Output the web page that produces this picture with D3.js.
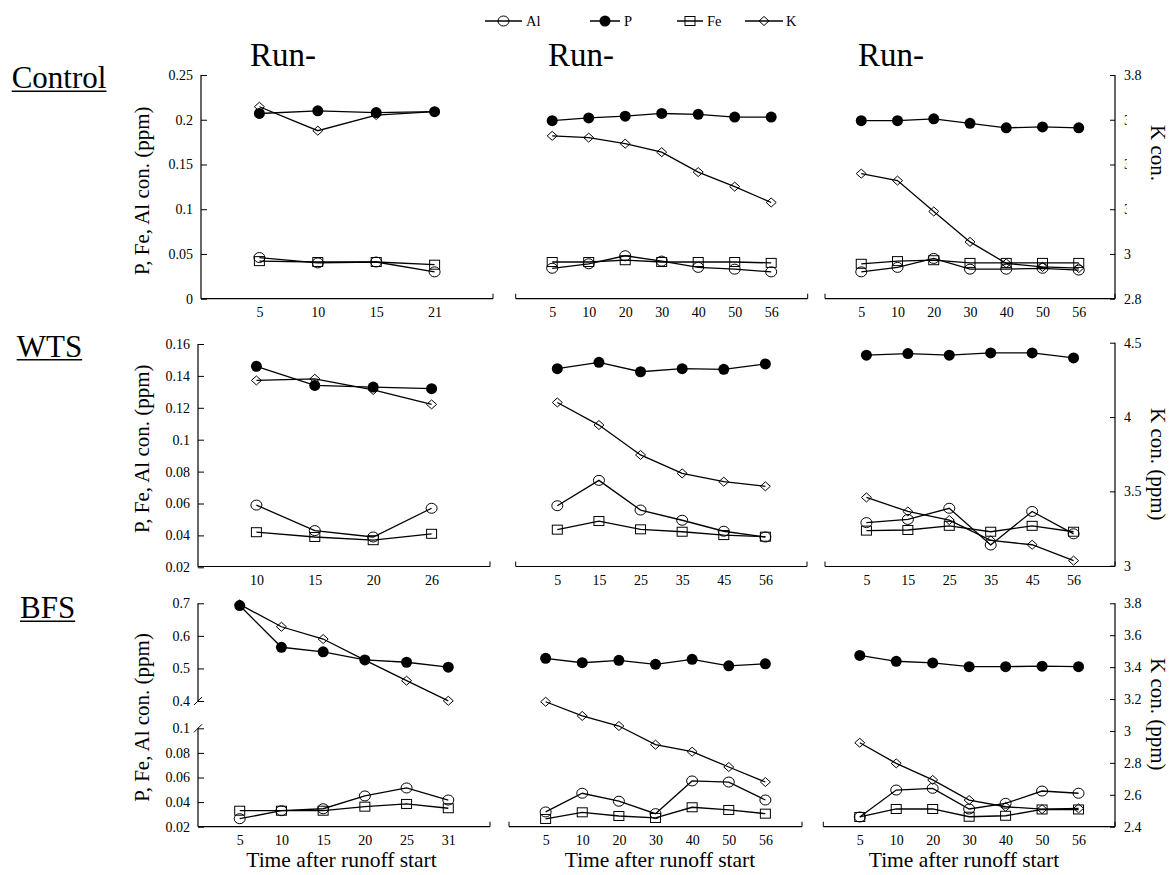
<!DOCTYPE html>
<html><head><meta charset="utf-8">
<script src="https://cdn.jsdelivr.net/npm/d3@7"></script>
<style>
body{margin:0;background:#fff}
svg text{font-family:"Liberation Serif","DejaVu Serif",serif !important;}
</style>
</head><body>
<svg id="c" width="1175" height="875" xmlns="http://www.w3.org/2000/svg"></svg>
<script>
const FONT = '"Liberation Serif","DejaVu Serif",serif';

// ---------- categories (time after runoff start) ----------
const catsControlRun1 = ["5","10","15","21"];
const catsControlRun23 = ["5","10","20","30","40","50","56"];
const catsWTSRun1 = ["10","15","20","26"];
const catsWTSRun23 = ["5","15","25","35","45","56"];
const catsBFSRun1 = ["5","10","15","20","25","31"];
const catsBFSRun23 = ["5","10","20","30","40","50","56"];

// ---------- series values ----------
// Control
const ctrl1_Al = [0.046, 0.040, 0.041, 0.030];
const ctrl1_P  = [0.207, 0.210, 0.208, 0.209];
const ctrl1_Fe = [0.042, 0.041, 0.041, 0.038];
const ctrl1_K  = [3.658, 3.551, 3.621, 3.636];

const ctrl2_Al = [0.034, 0.039, 0.048, 0.042, 0.035, 0.033, 0.030];
const ctrl2_P  = [0.199, 0.202, 0.204, 0.207, 0.206, 0.203, 0.203];
const ctrl2_Fe = [0.041, 0.041, 0.043, 0.041, 0.041, 0.041, 0.040];
const ctrl2_K  = [3.528, 3.520, 3.493, 3.455, 3.366, 3.301, 3.230];

const ctrl3_Al = [0.030, 0.035, 0.045, 0.033, 0.033, 0.034, 0.032];
const ctrl3_P  = [0.199, 0.199, 0.201, 0.196, 0.191, 0.192, 0.191];
const ctrl3_Fe = [0.039, 0.042, 0.043, 0.040, 0.040, 0.040, 0.040];
const ctrl3_K  = [3.359, 3.328, 3.190, 3.054, 2.958, 2.942, 2.937];

// WTS
const wts1_Al = [0.059, 0.043, 0.039, 0.057];
const wts1_P  = [0.146, 0.134, 0.133, 0.132];
const wts1_Fe = [0.042, 0.039, 0.037, 0.041];
const wts1_K  = [4.246, 4.257, 4.182, 4.085];

const wts2_Al = [0.0586, 0.0745, 0.0559, 0.0495, 0.0426, 0.039];
const wts2_P  = [0.1445, 0.1485, 0.1426, 0.1445, 0.1441, 0.1475];
const wts2_Fe = [0.0436, 0.049, 0.0438, 0.0423, 0.0402, 0.0392];
const wts2_K  = [4.098, 3.946, 3.745, 3.621, 3.565, 3.534];

const wts3_Al = [0.048, 0.050, 0.057, 0.034, 0.055, 0.041];
const wts3_P  = [0.153, 0.154, 0.153, 0.1544, 0.1544, 0.1513];
const wts3_Fe = [0.043, 0.0434, 0.046, 0.0423, 0.046, 0.0423];
const wts3_K  = [3.459, 3.365, 3.307, 3.170, 3.141, 3.034];

// BFS
const bfs1_Al = [0.0265, 0.033, 0.0346, 0.045, 0.0515, 0.0417];
const bfs1_P  = [0.693, 0.565, 0.551, 0.526, 0.519, 0.504];
const bfs1_Fe = [0.033, 0.033, 0.033, 0.0363, 0.0385, 0.035];
const bfs1_K  = [3.793, 3.653, 3.576, 3.444, 3.315, 3.189];

const bfs2_Al = [0.032, 0.0472, 0.0407, 0.0306, 0.0572, 0.0563, 0.0417];
const bfs2_P  = [0.531, 0.5175, 0.525, 0.5126, 0.528, 0.508, 0.514];
const bfs2_Fe = [0.0263, 0.0317, 0.0287, 0.0271, 0.0358, 0.0336, 0.0306];
const bfs2_K  = [3.183, 3.094, 3.031, 2.914, 2.870, 2.774, 2.680];

const bfs3_Al = [0.0279, 0.0498, 0.0512, 0.0344, 0.039, 0.049, 0.0472];
const bfs3_P  = [0.540, 0.522, 0.517, 0.5055, 0.5055, 0.507, 0.5055];
const bfs3_Fe = [0.0279, 0.0344, 0.0344, 0.0281, 0.0289, 0.034, 0.034];
const bfs3_K  = [2.926, 2.797, 2.693, 2.567, 2.525, 2.51, 2.515];

// ---------- tick labels ----------
const leftTicksControl = [0, 0.05, 0.1, 0.15, 0.2, 0.25];
const leftTicksWTS = [0.02, 0.04, 0.06, 0.08, 0.1, 0.12, 0.14, 0.16];
const leftTicksBFS = [0.02, 0.04, 0.06, 0.08, 0.1, 0.4, 0.5, 0.6, 0.7];
const rightTicksControl = [2.8, 3, 3.2, 3.4, 3.6, 3.8];
const rightTicksWTS = [3, 3.5, 4, 4.5];
const rightTicksBFS = [2.4, 2.6, 2.8, 3, 3.2, 3.4, 3.6, 3.8];

const rowNames = ["Control", "WTS", "BFS"];
const seriesNames = ["Al", "P", "Fe", "K"];
const runTitle = "Run-";
const leftTitle = "P, Fe, Al con. (ppm)";
const xTitle = "Time after runoff start";

// ---------- layout ----------
const svg = d3.select("#c");
const rows = [
  { axisY: 298.7, leftX: 201,
    xr: [[201, 493], [515.7, 807.7], [825, 1115]],
    yL: d3.scaleLinear().domain([0, 0.25]).range([298.7, 75]),
    yR: d3.scaleLinear().domain([2.8, 3.8]).range([298.7, 75]),
    lt: leftTicksControl, rt: rightTicksControl },
  { axisY: 566.5, leftX: 198,
    xr: [[198, 490], [515.7, 807], [825, 1115]],
    yL: d3.scaleLinear().domain([0.02, 0.16]).range([567.3, 344]),
    yR: d3.scaleLinear().domain([3, 4.5]).range([565.7, 342.7]),
    lt: leftTicksWTS, rt: rightTicksWTS },
  { axisY: 826.7, leftX: 198,
    xr: [[198, 490], [509, 802], [823.3, 1115]],
    yL: d3.scaleLinear().domain([0.02, 0.1, 0.4, 0.7]).range([826.7, 728.3, 701, 603.3]),
    yR: d3.scaleLinear().domain([2.4, 3.8]).range([826.7, 603.3]),
    lt: leftTicksBFS, rt: rightTicksBFS }
];

const panels = [
  { r: 0, c: 0, cats: catsControlRun1, d: { Al: ctrl1_Al, P: ctrl1_P, Fe: ctrl1_Fe, K: ctrl1_K } },
  { r: 0, c: 1, cats: catsControlRun23, d: { Al: ctrl2_Al, P: ctrl2_P, Fe: ctrl2_Fe, K: ctrl2_K } },
  { r: 0, c: 2, cats: catsControlRun23, d: { Al: ctrl3_Al, P: ctrl3_P, Fe: ctrl3_Fe, K: ctrl3_K } },
  { r: 1, c: 0, cats: catsWTSRun1, d: { Al: wts1_Al, P: wts1_P, Fe: wts1_Fe, K: wts1_K } },
  { r: 1, c: 1, cats: catsWTSRun23, d: { Al: wts2_Al, P: wts2_P, Fe: wts2_Fe, K: wts2_K } },
  { r: 1, c: 2, cats: catsWTSRun23, d: { Al: wts3_Al, P: wts3_P, Fe: wts3_Fe, K: wts3_K } },
  { r: 2, c: 0, cats: catsBFSRun1, d: { Al: bfs1_Al, P: bfs1_P, Fe: bfs1_Fe, K: bfs1_K } },
  { r: 2, c: 1, cats: catsBFSRun23, d: { Al: bfs2_Al, P: bfs2_P, Fe: bfs2_Fe, K: bfs2_K } },
  { r: 2, c: 2, cats: catsBFSRun23, d: { Al: bfs3_Al, P: bfs3_P, Fe: bfs3_Fe, K: bfs3_K } }
];

function marker(g, type, x, y) {
  if (type === "Al") {
    g.append("ellipse").attr("cx", x).attr("cy", y).attr("rx", 5.5).attr("ry", 5)
      .attr("fill", "none").attr("stroke", "#000").attr("stroke-width", 1);
  } else if (type === "P") {
    g.append("circle").attr("cx", x).attr("cy", y).attr("r", 5.5).attr("fill", "#000");
  } else if (type === "Fe") {
    g.append("rect").attr("x", x - 5).attr("y", y - 4.5).attr("width", 10).attr("height", 9)
      .attr("fill", "none").attr("stroke", "#000").attr("stroke-width", 1);
  } else {
    g.append("path").attr("d", `M${x},${y - 4.5}L${x + 5},${y}L${x},${y + 4.5}L${x - 5},${y}Z`)
      .attr("fill", "none").attr("stroke", "#000").attr("stroke-width", 1);
  }
}

function styleText(sel, size) {
  sel.attr("font-family", FONT).attr("font-size", size).attr("fill", "#000");
}

// ---------- panels ----------
panels.forEach(p => {
  const row = rows[p.r];
  const [x0, x1] = row.xr[p.c];
  const x = d3.scalePoint().domain(p.cats).range([x0, x1]).padding(1);
  const g = svg.append("g");
  const yb = row.axisY;
  g.append("line").attr("x1", x0).attr("x2", x1).attr("y1", yb).attr("y2", yb)
    .attr("stroke", "#000").attr("stroke-width", 1.2);
  if (p.c > 0) g.append("line").attr("x1", x0).attr("x2", x0).attr("y1", yb).attr("y2", yb - 5)
    .attr("stroke", "#000").attr("stroke-width", 1);
  g.append("line").attr("x1", x1).attr("x2", x1).attr("y1", yb).attr("y2", yb - 5)
    .attr("stroke", "#000").attr("stroke-width", 1);
  const axg = g.append("g").attr("transform", `translate(0,${yb})`)
    .call(d3.axisBottom(x).tickSize(0).tickPadding(8.5));
  axg.select(".domain").remove();
  axg.attr("font-family", null);
  styleText(axg.selectAll("text"), 14);

  ["K", "P", "Fe", "Al"].forEach(s => {
    const ys = s === "K" ? row.yR : row.yL;
    const vals = p.d[s];
    const pts = p.cats.map((c, i) => [x(c), ys(vals[i])]);
    g.append("path").attr("d", d3.line()(pts)).attr("fill", "none")
      .attr("stroke", "#000").attr("stroke-width", 1.3);
    pts.forEach(pt => marker(g, s, pt[0], pt[1]));
  });
});

// ---------- left y axes ----------
rows.forEach((row, r) => {
  const ax = d3.axisLeft(row.yL).tickValues(row.lt).tickSizeInner(-6).tickSizeOuter(0)
    .tickPadding(8).tickFormat(d => String(d));
  const g = svg.append("g").attr("transform", `translate(${row.leftX},0)`).call(ax);
  g.select(".domain").remove();
  g.attr("font-family", null);
  g.selectAll(".tick line").attr("stroke", "#000");
  styleText(g.selectAll("text"), 14);
  const rg = row.yL.range();
  if (r < 2) {
    svg.append("line").attr("x1", row.leftX).attr("x2", row.leftX).attr("y1", rg[0]).attr("y2", rg[rg.length - 1])
      .attr("stroke", "#000").attr("stroke-width", 1.2);
  } else {
    const yl = row.yL;
    svg.append("line").attr("x1", row.leftX).attr("x2", row.leftX).attr("y1", yl(0.7)).attr("y2", yl(0.4))
      .attr("stroke", "#000").attr("stroke-width", 1.2);
    svg.append("line").attr("x1", row.leftX).attr("x2", row.leftX).attr("y1", yl(0.1)).attr("y2", yl(0.02))
      .attr("stroke", "#000").attr("stroke-width", 1.2);
    [0.4, 0.1].forEach(v => {
      svg.append("line").attr("x1", row.leftX - 4).attr("y1", yl(v) + 4)
        .attr("x2", row.leftX + 4).attr("y2", yl(v) - 4)
        .attr("stroke", "#000").attr("stroke-width", 1);
    });
  }
});

// ---------- right y axes ----------
rows.forEach((row) => {
  const ax = d3.axisRight(row.yR).tickValues(row.rt).tickSizeInner(-5).tickSizeOuter(0)
    .tickPadding(9).tickFormat(d => String(d));
  const g = svg.append("g").attr("transform", `translate(1115,0)`).call(ax);
  g.select(".domain").remove();
  g.attr("font-family", null);
  g.selectAll(".tick line").attr("stroke", "#000");
  styleText(g.selectAll("text"), 14);
  const rg = row.yR.range();
  svg.append("line").attr("x1", 1115).attr("x2", 1115).attr("y1", rg[0]).attr("y2", rg[1])
    .attr("stroke", "#000").attr("stroke-width", 1.2);
});

// cover part of the top right tick labels (as in the source figure)
svg.append("rect").attr("x", 1127).attr("y", 105).attr("width", 48).attr("height", 120).attr("fill", "#fff");

// ---------- axis titles ----------
const defs = svg.append("defs");
defs.append("clipPath").attr("id", "clipTopLabel").append("rect")
  .attr("x", 100).attr("y", 105).attr("width", 80).attr("height", 250);

const leftTitleStart = [275, 533, 801.7];
leftTitleStart.forEach((y, i) => {
  const parent = i === 0 ? svg.append("g").attr("clip-path", "url(#clipTopLabel)") : svg;
  const t = parent.append("text").attr("transform", `translate(141.7,${y}) rotate(-90)`)
    .attr("dominant-baseline", "central").attr("text-anchor", "start").text(leftTitle);
  styleText(t, 21);
});

const rightTitles = [["K con.", 125], ["K con. (ppm)", 408], ["K con. (ppm)", 658]];
rightTitles.forEach(([txt, y]) => {
  const t = svg.append("text").attr("transform", `translate(1158,${y}) rotate(90)`)
    .attr("dominant-baseline", "central").attr("text-anchor", "start").text(txt);
  styleText(t, 21);
});

const xTitleCenters = [341.5, 660, 964];
xTitleCenters.forEach(cx => {
  const t = svg.append("text").attr("x", cx).attr("y", 867).attr("text-anchor", "middle").text(xTitle);
  styleText(t, 21.5);
});

// ---------- run titles ----------
[250, 548, 858].forEach(x => {
  const t = svg.append("text").attr("x", x).attr("y", 66).text(runTitle);
  styleText(t, 33);
});

// ---------- row labels ----------
const rowLabelPos = [[11.7, 88.3], [16.7, 356.7], [20, 618.3]];
rowNames.forEach((name, i) => {
  const [x, y] = rowLabelPos[i];
  const t = svg.append("text").attr("x", x).attr("y", y).text(name);
  styleText(t, 31);
  const w = t.node().getComputedTextLength();
  svg.append("line").attr("x1", x).attr("x2", x + w).attr("y1", y + 3).attr("y2", y + 3)
    .attr("stroke", "#000").attr("stroke-width", 1.5);
});

// ---------- legend ----------
const legendPos = [
  { l0: 485, l1: 522, m: 503.5, t: 526 },
  { l0: 590, l1: 620, m: 605, t: 624 },
  { l0: 677, l1: 703, m: 690, t: 707 },
  { l0: 745, l1: 783, m: 764, t: 786 }
];
const ly = 21;
const lg = svg.append("g");
seriesNames.forEach((s, i) => {
  const p = legendPos[i];
  lg.append("line").attr("x1", p.l0).attr("x2", p.l1).attr("y1", ly).attr("y2", ly)
    .attr("stroke", "#000").attr("stroke-width", 1.5);
  marker(lg, s, p.m, ly);
  const t = lg.append("text").attr("x", p.t).attr("y", ly + 5).text(s);
  styleText(t, 14.5);
});
</script>
</body></html>
